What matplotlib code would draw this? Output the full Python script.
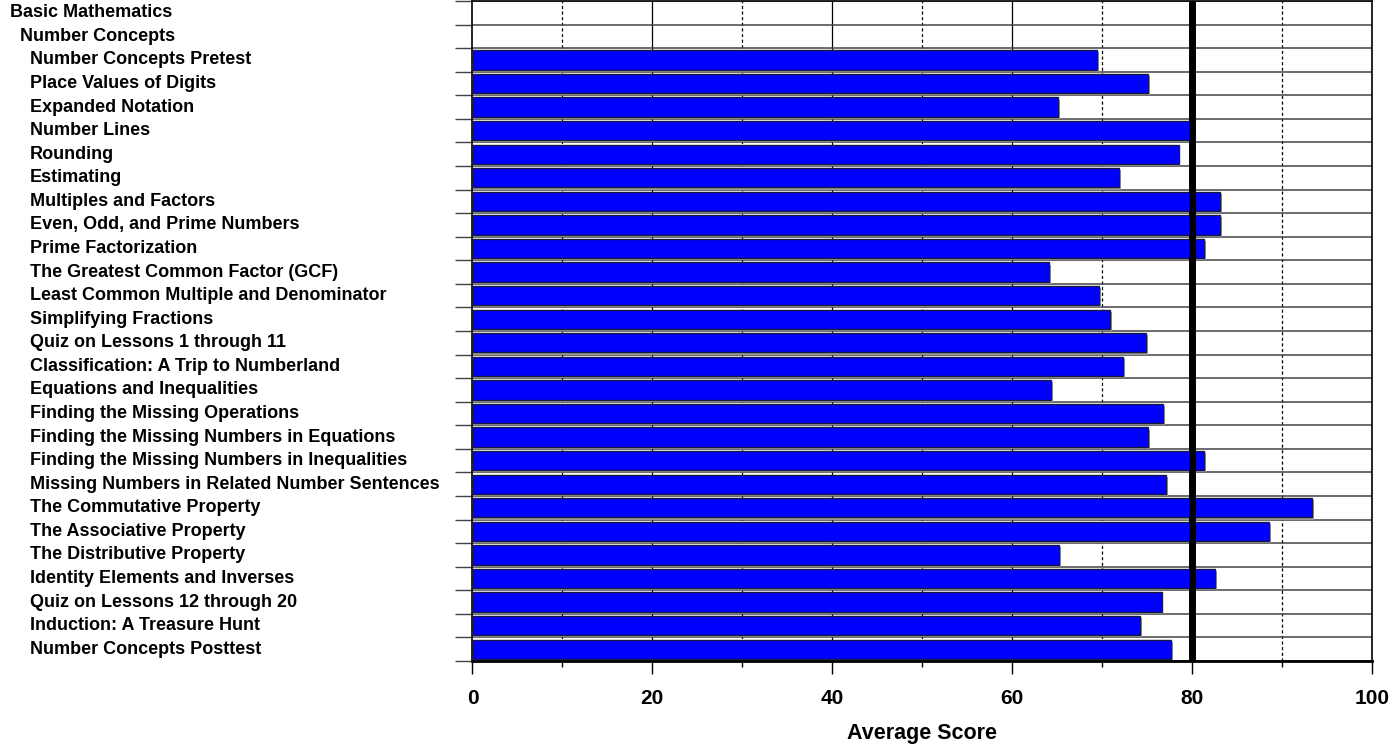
import numpy as np
import matplotlib
matplotlib.use("Agg")
import matplotlib.pyplot as plt
from matplotlib.transforms import blended_transform_factory

plt.rcParams["font.family"] = ["Liberation Sans", "DejaVu Sans"]
plt.rcParams["font.weight"] = "bold"

# rows from top to bottom; headers have no score
labels = [
    "Basic Mathematics",
    "Number Concepts",
    "Number Concepts Pretest",
    "Place Values of Digits",
    "Expanded Notation",
    "Number Lines",
    "Rounding",
    "Estimating",
    "Multiples and Factors",
    "Even, Odd, and Prime Numbers",
    "Prime Factorization",
    "The Greatest Common Factor (GCF)",
    "Least Common Multiple and Denominator",
    "Simplifying Fractions",
    "Quiz on Lessons 1 through 11",
    "Classification: A Trip to Numberland",
    "Equations and Inequalities",
    "Finding the Missing Operations",
    "Finding the Missing Numbers in Equations",
    "Finding the Missing Numbers in Inequalities",
    "Missing Numbers in Related Number Sentences",
    "The Commutative Property",
    "The Associative Property",
    "The Distributive Property",
    "Identity Elements and Inverses",
    "Quiz on Lessons 12 through 20",
    "Induction: A Treasure Hunt",
    "Number Concepts Posttest",
]
levels = [0, 1] + [2] * 26
scores = [None, None,
          69.4, 75.1, 65.1, 79.8, 78.5, 71.9, 83.1, 83.1, 81.3, 64.1,
          69.7, 70.9, 74.9, 72.3, 64.3, 76.8, 75.1, 81.3, 77.1, 93.3,
          88.6, 65.2, 82.6, 76.6, 74.2, 77.7]
target = 80
major_ticks = [0, 20, 40, 60, 80, 100]
minor_ticks = [10, 30, 50, 70, 90]

fig = plt.figure(figsize=(13.97, 7.5), dpi=100)
ax = fig.add_axes([0.3382, 0.1187, 0.9821 - 0.3382, 0.9987 - 0.1187])

n = len(labels)
rows = [i for i, s in enumerate(scores) if s is not None]
vals = [scores[i] for i in rows]

# grid
for x in major_ticks[1:-1]:
    ax.axvline(x, color="black", lw=0.9, zorder=0)
for x in minor_ticks:
    ax.axvline(x, color="black", lw=0.9, ls=(0, (2.5, 2)), zorder=0)
for y in np.arange(n + 1) - 0.5:
    ax.axhline(y, color="#444444", lw=1.1, zorder=1)

# bars with a small drop shadow
ax.barh(np.array(rows) + 0.09, np.array(vals) + 0.2, height=0.82,
        color="#999999", lw=0, zorder=2)
ax.barh(rows, vals, height=0.82, color="#0000ff",
        edgecolor="#1a1a40", lw=1.0, zorder=3)

ax.axvline(target, color="black", lw=5, zorder=5)

ax.set_xlim(0, 100)
ax.set_ylim(n - 0.5, -0.5)

ax.set_xticks(major_ticks)
ax.set_xticks(minor_ticks, minor=True)
ax.tick_params(axis="x", which="major", length=9, width=1, pad=11,
               labelsize=15)
ax.tick_params(axis="x", which="minor", length=4.5, width=1)
ax.set_yticks(np.arange(n + 1) - 0.5)
ax.set_yticklabels([])
ax.tick_params(axis="y", length=12, width=1, color="#444444")
for lbl in ax.get_xticklabels():
    lbl.set_fontweight("bold")

for side in ["top", "right", "left", "bottom"]:
    ax.spines[side].set_linewidth(1.2)
ax.spines["bottom"].set_linewidth(2)

ax.set_xlabel("Average Score", fontsize=15.5, fontweight="bold", labelpad=11)

trans = blended_transform_factory(fig.transFigure, ax.transData)
for i, (text, lev) in enumerate(zip(labels, levels)):
    ax.text((10 + 10 * lev) / 1397, i, text, transform=trans, ha="left",
            va="center", fontsize=13, fontweight="bold")

fig.savefig("out.png", dpi=100)
